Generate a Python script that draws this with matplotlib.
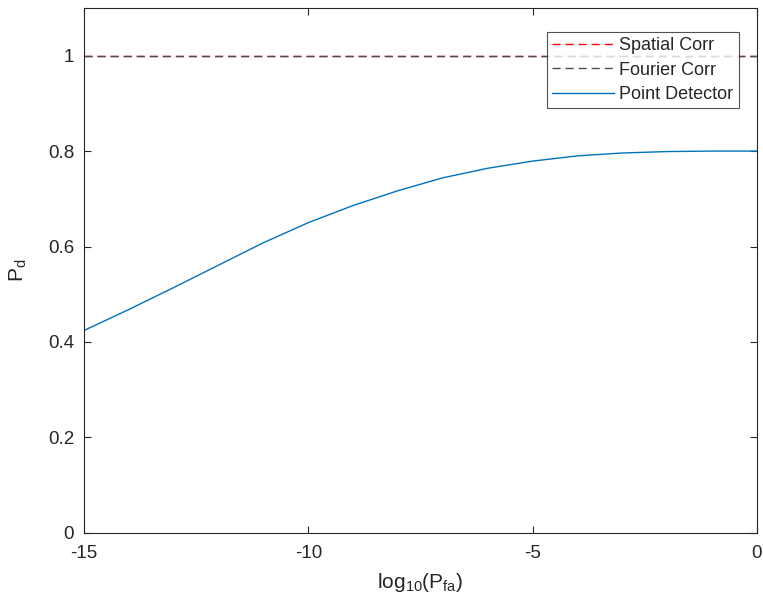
import numpy as np
import matplotlib.pyplot as plt

plt.rcParams['font.family'] = ['Liberation Sans', 'DejaVu Sans']
plt.rcParams['mathtext.default'] = 'regular'
plt.rcParams['axes.unicode_minus'] = False

# log10(Pfa) axis values and detection probabilities
log_pfa = [-15, -14, -13, -12, -11, -10, -9, -8, -7, -6, -5, -4, -3, -2, -1, 0]
pd_point = [0.424, 0.468, 0.514, 0.561, 0.608, 0.650, 0.686, 0.717, 0.744,
            0.764, 0.779, 0.790, 0.796, 0.799, 0.800, 0.800]
pd_spatial = [1.0] * len(log_pfa)
pd_fourier = [1.0] * len(log_pfa)

axis_col = '#262626'

fig = plt.figure(figsize=(7.63, 6.09), dpi=100)
ax = fig.add_axes([0.110, 0.125, 0.882, 0.862])

ax.plot(log_pfa, pd_spatial, color='#ff0000', linestyle='--', dashes=(5.8, 3.6),
        linewidth=1.0, label='Spatial Corr')
ax.plot(log_pfa, pd_fourier, color='#4d4d4d', linestyle='--', dashes=(5.8, 3.6),
        linewidth=1.0, label='Fourier Corr')
ax.plot(log_pfa, pd_point, color='#0072BD', linewidth=1.0, label='Point Detector')

ax.set_xlim(-15, 0)
ax.set_ylim(0, 1.1)
ax.set_xticks([-15, -10, -5, 0])
ax.set_yticks([0, 0.2, 0.4, 0.6, 0.8, 1])
ax.set_yticklabels(['0', '0.2', '0.4', '0.6', '0.8', '1'])

ax.tick_params(direction='in', top=True, right=True, length=5, width=0.8,
               colors=axis_col, labelsize=13.5)
ax.tick_params(axis='x', pad=9)
ax.tick_params(axis='y', pad=7)
for s in ax.spines.values():
    s.set_color(axis_col)
    s.set_linewidth(0.8)

ax.set_xlabel(r'log$_{10}$(P$_{fa}$)', fontsize=15, color=axis_col, labelpad=6)
ax.set_ylabel(r'P$_{d}$', fontsize=15, color=axis_col, labelpad=14)

leg = ax.legend(loc='upper right', bbox_to_anchor=(0.973, 0.954), fontsize=13,
                frameon=True, fancybox=False, handlelength=3.4, handletextpad=0.3,
                borderpad=0.3, labelspacing=0.4, borderaxespad=0.0)
leg.get_frame().set_edgecolor(axis_col)
leg.get_frame().set_linewidth(0.8)
for t in leg.get_texts():
    t.set_color(axis_col)

fig.savefig('out.png', dpi=100)
